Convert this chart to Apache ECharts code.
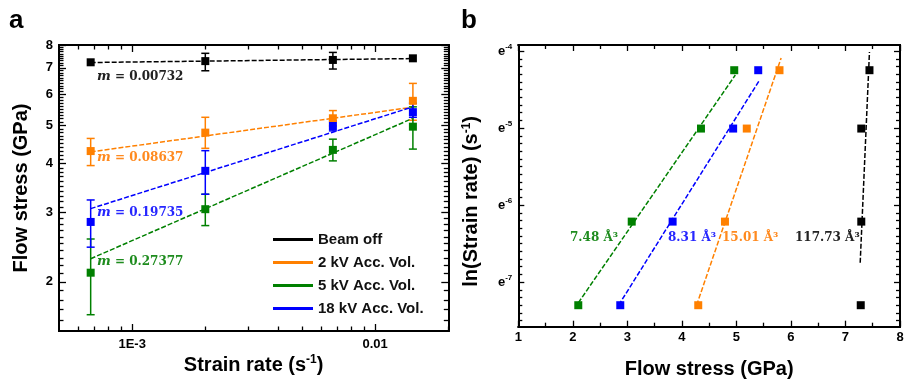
<!DOCTYPE html>
<html><head><meta charset="utf-8">
<script src="https://cdn.jsdelivr.net/npm/echarts@6/dist/echarts.min.js"></script>
<style>html,body{margin:0;padding:0;background:#fff}#c{width:907px;height:382px}</style>
</head><body><div id="c"></div>
<script>
// ---------------- DATA ----------------
const seriesNames = ['Beam off', '2 kV Acc. Vol.', '5 kV Acc. Vol.', '18 kV Acc. Vol.'];
const seriesColors = ['#000000', '#FF8000', '#008000', '#0000FF'];
const strainRate = [6.75e-4, 2.0e-3, 6.7e-3, 1.43e-2];

// panel a : flow stress (GPa)
const stressBeamOff = [7.23, 7.28, 7.33, 7.40];
const stress2kV     = [4.30, 4.79, 5.21, 5.77];
const stress5kV     = [2.11, 3.06, 4.33, 4.96];
const stress18kV    = [2.84, 3.83, 4.98, 5.40];
// error bar limits (GPa)
const errLowBeamOff  = [null, 6.88, 6.95, null];
const errHighBeamOff = [null, 7.62, 7.66, null];
const errLow2kV      = [3.95, 4.37, 4.98, 5.15];
const errHigh2kV     = [4.63, 5.24, 5.45, 6.39];
const errLow5kV      = [1.65, 2.78, 4.06, 4.35];
const errHigh5kV     = [2.57, 3.34, 4.61, 5.57];
const errLow18kV     = [2.45, 3.34, 4.84, 5.24];
const errHigh18kV    = [3.23, 4.31, 5.13, 5.69];
// fitted power-law lines: stress at first and last strain rate
const fitStartA = [7.22, 4.28, 2.29, 3.07];
const fitEndA   = [7.39, 5.56, 5.21, 5.57];
const slopeLabels = ['0.00732', '0.08637', '0.27377', '0.19735'];

// panel b : flow stress (GPa) vs ln(strain rate)
const stressB_BeamOff = [7.28, 7.29, 7.29, 7.44];
const stressB_2kV     = [4.30, 4.79, 5.19, 5.79];
const stressB_5kV     = [2.10, 3.08, 4.35, 4.96];
const stressB_18kV    = [2.87, 3.83, 4.94, 5.40];
// fitted lines panel b: [stress, ln(strain rate)] end points
const fitB_BeamOff = [[7.27, -6.75], [7.44, -4.01]];
const fitB_2kV     = [[4.27, -7.30], [5.82, -4.09]];
const fitB_5kV     = [[2.10, -7.27], [4.98, -4.31]];
const fitB_18kV    = [[2.84, -7.30], [5.43, -4.37]];
const volumeLabels = ['117.73 Å³', '15.01 Å³', '7.48 Å³', '8.31 Å³'];

// tick labels
const yTicksA = [2, 3, 4, 5, 6, 7, 8];
const xTicksA = [1e-3, 0.01];
const xTickLabelsA = ['1E-3', '0.01'];
const xTicksB = [1, 2, 3, 4, 5, 6, 7, 8];
const yTicksB = [-7, -6, -5, -4];

// ---------------- BUILD ----------------
const L10 = Math.log10;
const FONT = '"Liberation Sans", Arial, sans-serif';
const SERIF = '"DejaVu Serif", serif';

const stressA = [stressBeamOff, stress2kV, stress5kV, stress18kV];
const errLowA = [errLowBeamOff, errLow2kV, errLow5kV, errLow18kV];
const errHighA = [errHighBeamOff, errHigh2kV, errHigh5kV, errHigh18kV];
const stressB = [stressB_BeamOff, stressB_2kV, stressB_5kV, stressB_18kV];
const fitB = [fitB_BeamOff, fitB_2kV, fitB_5kV, fitB_18kV];
const lnRate = strainRate.map(r => Math.log(r));

// minor tick positions
const yMinorA = [];
for (let k = 16; k <= 79; k++) if (k % 10) yMinorA.push(L10(k / 10));
const xMinorA = [];
for (let k = 6; k <= 9; k++) xMinorA.push(L10(k * 1e-4));
for (let k = 2; k <= 9; k++) xMinorA.push(L10(k * 1e-3));
xMinorA.push(L10(2e-2));
const xMinorB = [];
for (let k = 1; k < 8; k++) xMinorB.push(k + 0.5);
const yMinorB = [];
for (let k = -75; k <= -40; k++) if (k % 10) yMinorB.push(k / 10);

const nameStyle = {
  fontFamily: FONT, fontWeight: 'bold', fontSize: 20, color: '#000',
  rich: { sup: { fontFamily: FONT, fontWeight: 'bold', fontSize: 12, color: '#000', padding: [0, 0, 10, 0] } }
};

const xAxes = [], yAxes = [];
function axisSet(list, dim, gridIndex, min, max, major, minor, o) {
  const mainPos = dim === 'x' ? 'bottom' : 'left';
  const mirPos = dim === 'x' ? 'top' : 'right';
  const common = { type: 'value', gridIndex, min, max, splitLine: { show: false }, splitArea: { show: false }, silent: true };
  const line = { show: true, onZero: false, lineStyle: { color: '#000', width: 2 } };
  const tick = (vals, len) => ({ show: true, inside: true, length: len, customValues: vals, lineStyle: { color: '#000', width: 1.3 } });
  const idx = list.length;
  list.push(Object.assign({}, common, {
    position: mainPos,
    axisLine: line,
    axisTick: tick(major, o.majorLen),
    axisLabel: { show: true, customValues: major, formatter: o.fmt, margin: o.margin, color: '#000',
      fontFamily: FONT, fontWeight: 'bold', fontSize: 13, rich: o.labelRich || {} },
    name: o.name, nameLocation: 'middle', nameGap: o.nameGap, nameRotate: dim === 'y' ? 90 : 0,
    nameMoveOverlap: false,
    nameTextStyle: Object.assign({}, nameStyle, o.namePadding ? { padding: o.namePadding } : {})
  }));
  list.push(Object.assign({}, common, { position: mainPos, axisLine: line, axisTick: tick(minor, o.minorLen), axisLabel: { show: false } }));
  list.push(Object.assign({}, common, { position: mirPos, axisLine: line, axisTick: tick(major, o.majorLen), axisLabel: { show: false } }));
  list.push(Object.assign({}, common, { position: mirPos, axisLine: line, axisTick: tick(minor, o.minorLen), axisLabel: { show: false } }));
  return idx;
}

const xA = axisSet(xAxes, 'x', 0, L10(5e-4), L10(0.02), xTicksA.map(L10), xMinorA, {
  majorLen: 7, minorLen: 4.5, margin: 7,
  fmt: v => { const i = xTicksA.findIndex(t => Math.abs(L10(t) - v) < 1e-6); return i >= 0 ? xTickLabelsA[i] : ''; },
  name: 'Strain rate (s{sup|-1})', nameGap: 23
});
const yA = axisSet(yAxes, 'y', 0, L10(1.5), L10(8), yTicksA.map(L10), yMinorA, {
  majorLen: 7, minorLen: 4.5, margin: 6,
  fmt: v => String(Math.round(Math.pow(10, v))),
  name: 'Flow stress (GPa)', nameGap: 28
});
const xB = axisSet(xAxes, 'x', 1, 1, 8, xTicksB, xMinorB, {
  majorLen: 6, minorLen: 4, margin: 4,
  fmt: v => String(Math.round(v)),
  name: 'Flow stress (GPa)', nameGap: 33
});
const yB = axisSet(yAxes, 'y', 1, -7.58, -3.92, yTicksB, yMinorB, {
  majorLen: 6, minorLen: 4, margin: 6,
  fmt: v => 'e{sup|' + Math.round(v) + '}',
  labelRich: { sup: { fontFamily: FONT, fontWeight: 'bold', fontSize: 8, color: '#000', padding: [0, 0, 8, 0] } },
  name: 'ln(Strain rate) (s{sup|-1})', nameGap: 36, namePadding: [0, 31, 0, 0]
});

function errRender(color) {
  return function (params, api) {
    const x = api.value(0), lo = api.value(1), hi = api.value(2);
    const a = api.coord([x, hi]), b = api.coord([x, lo]);
    const w = 4, st = { stroke: color, lineWidth: 1.5 };
    return { type: 'group', children: [
      { type: 'line', shape: { x1: a[0], y1: a[1], x2: b[0], y2: b[1] }, style: st },
      { type: 'line', shape: { x1: a[0] - w, y1: a[1], x2: a[0] + w, y2: a[1] }, style: st },
      { type: 'line', shape: { x1: b[0] - w, y1: b[1], x2: b[0] + w, y2: b[1] }, style: st }
    ] };
  };
}

const series = [];
for (let i = 0; i < 4; i++) {
  const c = seriesColors[i];
  series.push({ type: 'line', name: 'fitA' + i, xAxisIndex: xA, yAxisIndex: yA, silent: true,
    data: [[L10(strainRate[0]), L10(fitStartA[i])], [L10(strainRate[3]), L10(fitEndA[i])]],
    symbol: 'none', lineStyle: { color: c, width: 1.5, type: [5, 2] }, z: 2 });
  const ed = [];
  strainRate.forEach((r, k) => { if (errLowA[i][k] != null) ed.push([L10(r), L10(errLowA[i][k]), L10(errHighA[i][k])]); });
  series.push({ type: 'custom', name: 'errA' + i, xAxisIndex: xA, yAxisIndex: yA, silent: true,
    data: ed, encode: { x: 0, y: [1, 2] }, renderItem: errRender(c), z: 3 });
  series.push({ type: 'scatter', name: seriesNames[i], xAxisIndex: xA, yAxisIndex: yA, silent: true,
    data: strainRate.map((r, k) => [L10(r), L10(stressA[i][k])]),
    symbol: 'rect', symbolSize: 8, itemStyle: { color: c, opacity: 1 }, z: 4 });
  series.push({ type: 'line', name: 'fitB' + i, xAxisIndex: xB, yAxisIndex: yB, silent: true,
    data: fitB[i], symbol: 'none', lineStyle: { color: c, width: 1.5, type: [5, 2] }, z: 2 });
  series.push({ type: 'scatter', name: 'ptsB' + i, xAxisIndex: xB, yAxisIndex: yB, silent: true,
    data: stressB[i].map((s, k) => [s, lnRate[k]]),
    symbol: 'rect', symbolSize: 8, itemStyle: { color: c, opacity: 1 }, z: 4 });
}

const textColors = ['#222222', '#FF8A1F', '#1E8C1E', '#2626FF'];
const graphic = [
  { type: 'text', x: 9, y: 21, style: { text: 'a', fontFamily: FONT, fontWeight: 'bold', fontSize: 26, fill: '#000', align: 'left', verticalAlign: 'middle' } },
  { type: 'text', x: 461, y: 21, style: { text: 'b', fontFamily: FONT, fontWeight: 'bold', fontSize: 26, fill: '#000', align: 'left', verticalAlign: 'middle' } }
];
const slopeY = [77, 158, 262, 213];
for (let i = 0; i < 4; i++) {
  graphic.push({ type: 'text', x: 97, y: slopeY[i], z: 10, style: {
    text: '{i|m} = ' + slopeLabels[i], fontFamily: SERIF, fontWeight: 'bold', fontSize: 12,
    fill: textColors[i], align: 'left', verticalAlign: 'middle',
    rich: { i: { fontFamily: SERIF, fontStyle: 'italic', fontWeight: 'bold', fontSize: 13, fill: textColors[i] } } } });
}
const volX = [795, 722, 570, 668];
for (let i = 0; i < 4; i++) {
  graphic.push({ type: 'text', x: volX[i], y: 238, z: 10, style: {
    text: volumeLabels[i], fontFamily: SERIF, fontWeight: 'bold', fontSize: 12,
    fill: textColors[i], align: 'left', verticalAlign: 'middle' } });
}

const chart = echarts.init(document.getElementById('c'), null, { renderer: 'canvas' });
chart.setOption({
  animation: false,
  backgroundColor: '#fff',
  grid: [
    { left: 59, top: 45, width: 389.3, height: 286, outerBoundsMode: 'none', containLabel: false },
    { left: 518.3, top: 45, width: 381.7, height: 281.7, outerBoundsMode: 'none', containLabel: false }
  ],
  xAxis: xAxes,
  yAxis: yAxes,
  legend: {
    orient: 'vertical', left: 273, top: 232, padding: 0, itemWidth: 40, itemHeight: 3, itemGap: 8,
    icon: 'rect', selectedMode: false, data: seriesNames,
    textStyle: { fontFamily: FONT, fontWeight: 'bold', fontSize: 15, color: '#111' }
  },
  series,
  graphic
});
</script></body></html>
